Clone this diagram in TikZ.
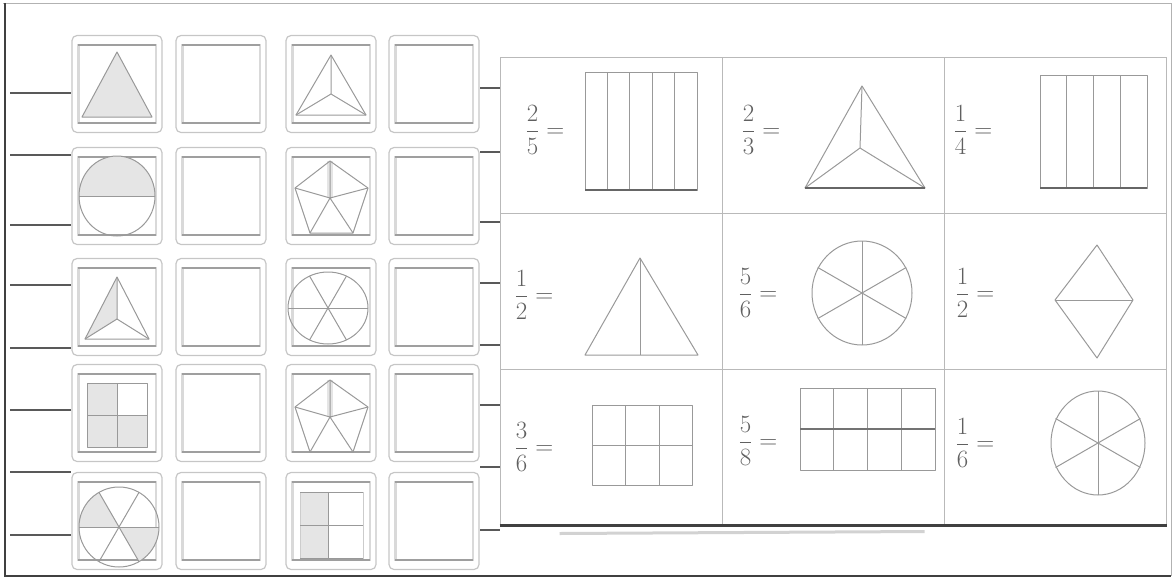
\documentclass[tikz,border=0pt]{standalone}
\usepackage{amsmath}
\usetikzlibrary{calc}
\tikzset{
 tile/.style={draw=gray!45,rounded corners=5pt,line width=1.2pt,minimum width=90pt,minimum height=97pt,inner sep=0},
 tileinner/.style={draw=gray!30,line width=2.2pt},
 tileedge/.style={draw=gray!75,line width=1.4pt},
 part/.style={draw=gray!80,line width=1pt,line join=round},
 shade/.style={fill=gray!20},
 cell/.style={draw=gray!55,line width=1pt,minimum width=222pt,minimum height=156pt,inner sep=0},
 frac/.style={text=gray!75!black,font=\Huge},
 tick/.style={draw=gray!70!black,line width=1.5pt}
}

\begin{document}
\begin{tikzpicture}[x=1pt,y=-1pt]
\path[use as bounding box] (0,0) rectangle (1175,579);
\draw[gray!60,line width=1pt] (3,3) -- (1171,3) -- (1171,576);
\draw[black!75,line width=2pt] (5,3) -- (5,576) -- (1171,576);
% tiles on the left
\foreach \c/\x in {1/117,2/221,3/331,4/434}
 \foreach \r/\y in {1/84,2/196,3/307,4/413,5/521}
 {
 \node[tile] (t\r\c) at (\x,\y) {};
 \draw[tileinner] ($(t\r\c.north west)+(7,10)$) rectangle ($(t\r\c.south east)+(-7,-10)$);
 \draw[tileedge] ($(t\r\c.north west)+(7,10)$) -- ($(t\r\c.north east)+(-7,10)$);
 \draw[tileedge] ($(t\r\c.south west)+(7,-10)$) -- ($(t\r\c.south east)+(-7,-10)$);
 }
% shapes, first column
\begin{scope}[shift={(t11.center)}]
 \filldraw[part,shade] (0,-32) -- (-35,33) -- (35,33) -- cycle;
\end{scope}
\begin{scope}[shift={(t21.center)}]
 \begin{scope}
 \clip (-45,-50) rectangle (45,0);
 \fill[shade] (0,0) ellipse [x radius=38,y radius=40];
 \end{scope}
 \draw[part] (0,0) ellipse [x radius=38,y radius=40];
 \draw[part] (-38,0) -- (38,0);
\end{scope}
\begin{scope}[shift={(t31.center)}]
 \fill[shade] (0,-30) -- (0,12) -- (-32,32) -- cycle;
 \draw[part] (0,-30) -- (-32,32) -- (32,32) -- cycle;
 \draw[part] (0,12) -- (0,-30) (0,12) -- (-32,32) (0,12) -- (32,32);
\end{scope}
\begin{scope}[shift={(t41.center)}]
 \fill[shade] (-30,-30) rectangle (0,34);
 \fill[shade] (0,2) rectangle (30,34);
 \draw[part] (-30,-30) rectangle (30,34);
 \draw[part] (0,-30) -- (0,34) (-30,2) -- (30,2);
\end{scope}
\begin{scope}[shift={(t51.center)}]
 \fill[shade] (2,6) -- (-38,6) arc[start angle=180,end angle=240,radius=40] -- cycle;
 \fill[shade] (2,6) -- (42,6) arc[start angle=0,end angle=60,radius=40] -- cycle;
 \draw[part] (2,6) circle [radius=40];
 \draw[part] (-38,6) -- (42,6);
 \draw[part] ($(2,6)+(60:40)$) -- ($(2,6)+(240:40)$);
 \draw[part] ($(2,6)+(120:40)$) -- ($(2,6)+(300:40)$);
\end{scope}
% shapes, third column
\begin{scope}[shift={(t13.center)}]
 \draw[part] (0,-29) -- (-35,31) -- (35,31) -- cycle;
 \draw[part] (0,10) -- (0,-29) (0,10) -- (-35,31) (0,10) -- (35,31);
\end{scope}
\foreach \t/\dy in {t23/0,t43/2}
{
 \begin{scope}[shift={(\t.center)},yshift=-\dy]
 \fill[shade] (-4,-35) rectangle (2,2);
 \draw[part] (-1,-35) -- (-36,-8) -- (-21,37) -- (22,37) -- (37,-8) -- cycle;
 \draw[part] (-1,2) -- (-1,-35) (-1,2) -- (-36,-8) (-1,2) -- (37,-8)
 (-1,2) -- (-21,37) (-1,2) -- (22,37);
 \end{scope}
}
\begin{scope}[shift={(t33.center)}]
 \draw[part] (-3,1) ellipse [x radius=40,y radius=36];
 \draw[part] (-43,1) -- (37,1);
 \draw[part] ($(-3,1)+(60:37)$) -- ($(-3,1)+(240:37)$);
 \draw[part] ($(-3,1)+(120:37)$) -- ($(-3,1)+(300:37)$);
\end{scope}
\begin{scope}[shift={(t53.center)}]
 \fill[shade] (-31,-29) rectangle (-3,37);
 \draw[gray!40,line width=1pt] (-31,-29) rectangle (32,37);
 \draw[part] (-31,-29) -- (32,-29) (-31,4) -- (32,4) (-31,37) -- (32,37) (-3,-29) -- (-3,37);
\end{scope}
% table on the right
\node[cell] (c11) at (611,135) {};
\node[cell] (c12) at (833,135) {};
\node[cell] (c13) at (1055,135) {};
\node[cell] (c21) at (611,291) {};
\node[cell] (c22) at (833,291) {};
\node[cell] (c23) at (1055,291) {};
\node[cell] (c31) at (611,447) {};
\node[cell] (c32) at (833,447) {};
\node[cell] (c33) at (1055,447) {};
\draw[black!75,line width=3.5pt] (c31.south west) -- (c33.south east);
\draw[gray!35,line width=3pt] ($(c31.south west)+(60,8)$) -- ($(c32.south east)+(-20,6)$);
% fractions
\node[frac] (f11) at ($(c11.center)+(-66,-5)$) {$\dfrac{2}{5}=$};
\node[frac] (f12) at ($(c12.center)+(-72,-5)$) {$\dfrac{2}{3}=$};
\node[frac] (f13) at ($(c13.center)+(-82,-5)$) {$\dfrac{1}{4}=$};
\node[frac] (f21) at ($(c21.center)+(-77,4)$) {$\dfrac{1}{2}=$};
\node[frac] (f22) at ($(c22.center)+(-75,2)$) {$\dfrac{5}{6}=$};
\node[frac] (f23) at ($(c23.center)+(-80,2)$) {$\dfrac{1}{2}=$};
\node[frac] (f31) at ($(c31.center)+(-77,0)$) {$\dfrac{3}{6}=$};
\node[frac] (f32) at ($(c32.center)+(-75,-6)$) {$\dfrac{5}{8}=$};
\node[frac] (f33) at ($(c33.center)+(-80,-4)$) {$\dfrac{1}{6}=$};
% pictures in the table
\begin{scope}[shift={(c11.center)}]
 \draw[part] (-26,-63) rectangle (86,55);
 \foreach \i in {1,...,4} \draw[part] ($(-26,-63)+(\i*22.4,0)$) -- ($(-26,55)+(\i*22.4,0)$);
 \draw[black!60,line width=2pt] (-26,55) -- (86,55);
\end{scope}
\begin{scope}[shift={(c12.center)}]
 \draw[part] (29,-49) -- (-28,53) -- (92,53) -- cycle;
 \draw[part] (27,13) -- (29,-49) (27,13) -- (-28,53) (27,13) -- (92,53);
 \draw[black!60,line width=2pt] (-28,53) -- (92,53);
\end{scope}
\begin{scope}[shift={(c13.center)}]
 \draw[part] (-15,-60) rectangle (92,53);
 \foreach \i in {1,2,3} \draw[part] ($(-15,-60)+(\i*26.75,0)$) -- ($(-15,53)+(\i*26.75,0)$);
 \draw[black!60,line width=2pt] (-15,53) -- (92,53);
\end{scope}
\begin{scope}[shift={(c21.center)}]
 \draw[part] (29,-33) -- (-26,64) -- (87,64) -- cycle;
 \draw[part] (29,-33) -- (29,64);
\end{scope}
\begin{scope}[shift={(c22.center)}]
 \draw[part] (29,2) ellipse [x radius=50,y radius=52];
 \draw[part] (29,-50) -- (29,54);
 \draw[part] ($(29,2)+(30:51)$) -- ($(29,2)+(210:51)$);
 \draw[part] ($(29,2)+(150:51)$) -- ($(29,2)+(330:51)$);
\end{scope}
\begin{scope}[shift={(c23.center)}]
 \draw[part] (42,-46) -- (0,9) -- (42,67) -- (78,9) -- cycle;
 \draw[part] (0,9) -- (78,9);
\end{scope}
\begin{scope}[shift={(c31.center)}]
 \draw[part] (-19,-42) rectangle (81,38);
 \draw[part] (14,-42) -- (14,38) (48,-42) -- (48,38) (-19,-2) -- (81,-2);
\end{scope}
\begin{scope}[shift={(c32.center)}]
 \draw[part] (-33,-59) rectangle (102,23);
 \foreach \i in {1,2,3} \draw[part] ($(-33,-59)+(\i*33.75,0)$) -- ($(-33,23)+(\i*33.75,0)$);
 \draw[black!55,line width=1.6pt] (-33,-18) -- (102,-18);
\end{scope}
\begin{scope}[shift={(c33.center)}]
 \draw[part] (43,-4) ellipse [x radius=47,y radius=52];
 \draw[part] (43,-56) -- (43,48);
 \draw[part] ($(43,-4)+(30:49)$) -- ($(43,-4)+(210:49)$);
 \draw[part] ($(43,-4)+(150:49)$) -- ($(43,-4)+(330:49)$);
\end{scope}
% short lines
\foreach \i/\y in {1/93,2/155,3/225,4/285,5/348,6/410,7/472,8/535}
{
 \coordinate (lt\i) at (10,\y);
 \draw[tick] (lt\i) -- (lt\i -| t11.west);
}
\foreach \i/\y in {1/88,2/152,3/222,4/283,5/345,6/405,7/467,8/530}
{
 \coordinate (rt\i) at (480,\y);
 \draw[tick] (rt\i) -- (rt\i -| c11.west);
}
\end{tikzpicture}
\end{document}
